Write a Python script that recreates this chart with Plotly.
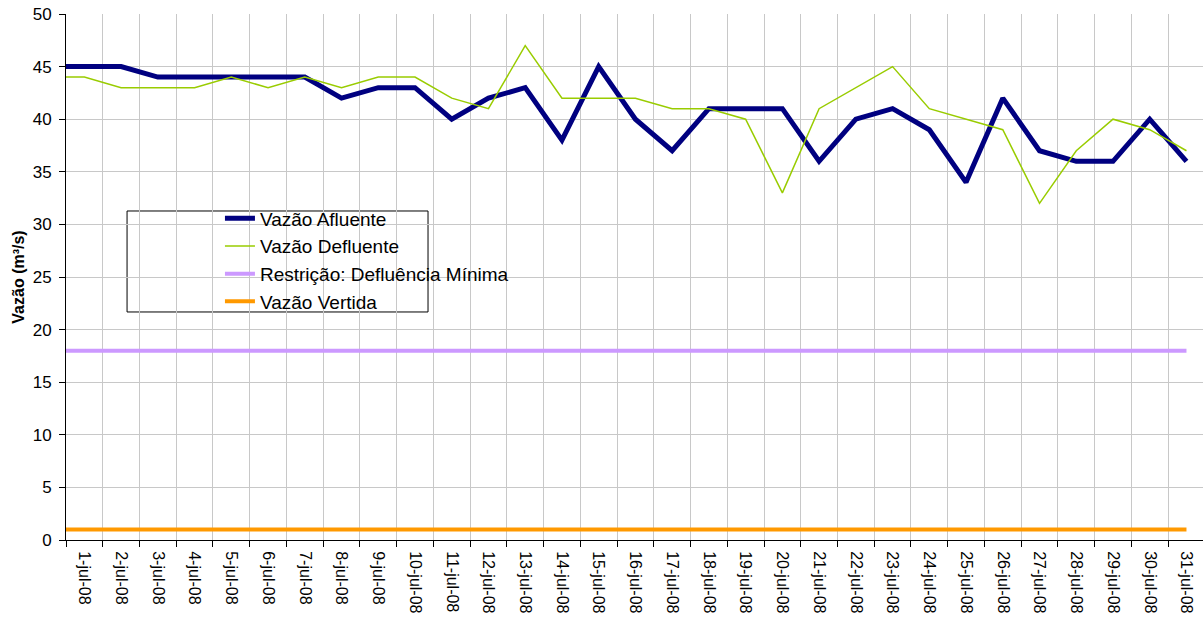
import plotly.graph_objects as go

dias = [f"{d}-jul-08" for d in range(1, 32)]
vazao_afluente = [45, 45, 44, 44, 44, 44, 44, 42, 43, 43, 40, 42, 43, 38, 45, 40,
                  37, 41, 41, 41, 36, 40, 41, 39, 34, 42, 37, 36, 36, 40, 36]
vazao_defluente = [44, 43, 43, 43, 44, 43, 44, 43, 44, 44, 42, 41, 47, 42, 42, 42,
                   41, 41, 40, 33, 41, 43, 45, 41, 40, 39, 32, 37, 40, 39, 37]
defluencia_minima = [18] * 31
vazao_vertida = [1] * 31

idx = list(range(len(dias)))
# Excel-style: lines start at the value axis (half a category before the first point)
x_ext = [idx[0] - 0.5] + idx


def ext(v):
    return [v[0]] + list(v)


FONT = "Arial, Liberation Sans, sans-serif"

series = [
    ("Vazão Afluente", vazao_afluente, "#000080", 5),
    ("Vazão Defluente", vazao_defluente, "#99cc00", 1.5),
    ("Restrição: Defluência Mínima", defluencia_minima, "#cc99ff", 4),
    ("Vazão Vertida", vazao_vertida, "#ff9900", 4),
]

fig = go.Figure()
for name, vals, color, w in series:
    fig.add_trace(go.Scatter(
        x=x_ext, y=ext(vals), mode="lines", name=name,
        line=dict(color=color, width=w),
        cliponaxis=True,
    ))

fig.update_layout(
    width=1203, height=621,
    margin=dict(l=66, r=0, t=14, b=81),
    paper_bgcolor="white", plot_bgcolor="white",
    font=dict(family=FONT, color="black", size=17),
    showlegend=True,
    legend=dict(
        x=0.1354, y=0.6475, xanchor="left", yanchor="top",
        bgcolor="rgba(0,0,0,0)", borderwidth=0,
        font=dict(size=19, family=FONT),
        tracegroupgap=0,
    ),
    shapes=[dict(
        type="rect", xref="paper", yref="paper",
        x0=0.0537, x1=0.3184, y0=0.4335, y1=0.6255,
        line=dict(color="black", width=1), fillcolor="white", layer="below",
    )],
)

fig.update_xaxes(
    range=[-0.5, 30.45], automargin=False,
    tickmode="array", tickvals=idx, ticktext=dias, tickangle=90,
    ticks="", showgrid=False, zeroline=False, ticklabelstandoff=7,
    ticklabeloverflow="allow",
    showline=True, linecolor="black", linewidth=1,
    tickfont=dict(size=16, family=FONT),
    minor=dict(tick0=-0.5, dtick=1, ticks="outside", ticklen=6, tickcolor="black",
               showgrid=True, gridcolor="#c8c8c8", gridwidth=1),
)
fig.update_yaxes(
    range=[0, 50], tick0=0, dtick=5, automargin=False,
    ticks="outside", ticklen=6, tickcolor="black", ticklabelstandoff=4,
    ticklabeloverflow="allow",
    showgrid=True, gridcolor="#c8c8c8", gridwidth=1, zeroline=False,
    showline=True, linecolor="black", linewidth=1,
    tickfont=dict(size=17, family=FONT),
    title=dict(text="<b>Vazão (m³/s)</b>", font=dict(size=16, family=FONT), standoff=4),
)

fig.write_html("out.html", config={"displayModeBar": False},
               post_script="document.body.style.margin='0';")
